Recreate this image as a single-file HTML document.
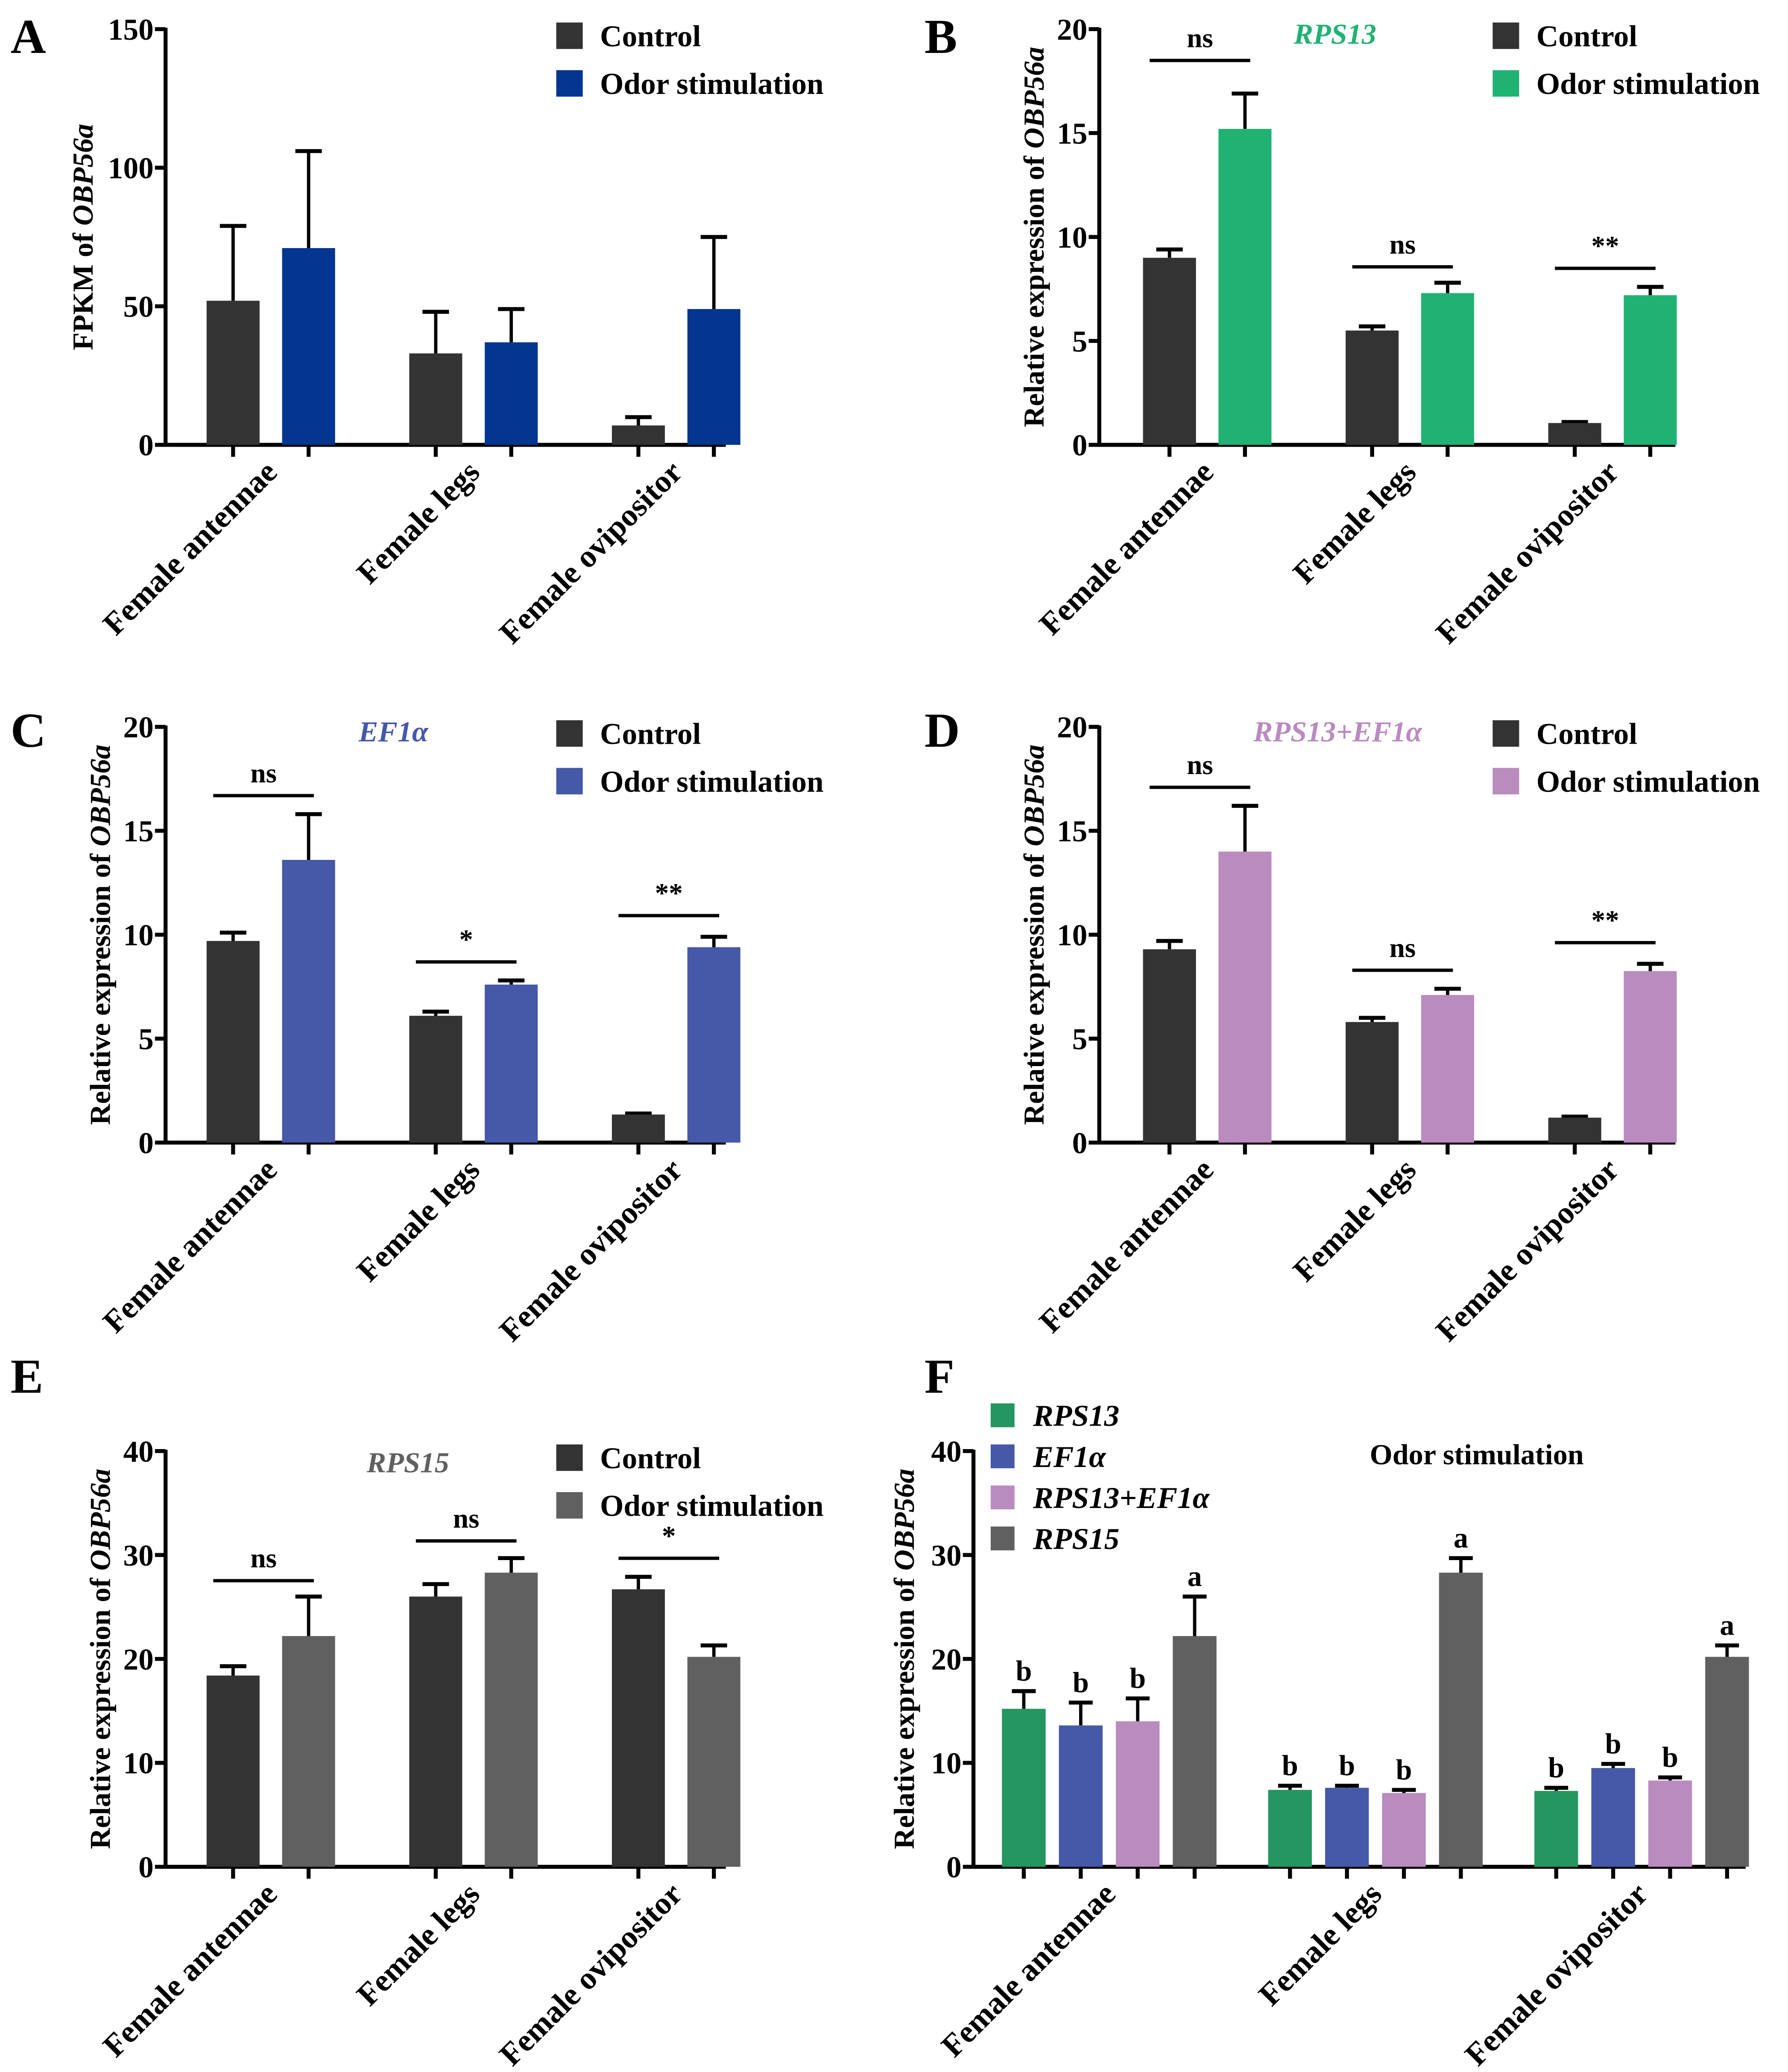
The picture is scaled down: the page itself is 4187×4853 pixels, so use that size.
<!DOCTYPE html>
<html><head><meta charset="utf-8">
<style>
html,body{margin:0;padding:0;background:#fff;}
svg{display:block;}
text{font-family:"Liberation Serif",serif;font-weight:bold;}
</style></head>
<body>
<svg id="fig" width="4187" height="4853" viewBox="0 0 1350 1565" preserveAspectRatio="none" xmlns="http://www.w3.org/2000/svg"></svg>
<script>
// ---- data ----
const categories = ["Female antennae","Female legs","Female ovipositor"];
const aControl = [52,33,7];          const aControlErr = [79,48,10];
const aOdor = [71,37,49];            const aOdorErr = [106,49,75];
const bControl = [9.0,5.5,1.05];     const bControlErr = [9.4,5.7,1.1];
const bOdor = [15.2,7.3,7.2];        const bOdorErr = [16.9,7.8,7.6];
const bSig = ["ns","ns","**"];
const cControl = [9.7,6.1,1.35];     const cControlErr = [10.1,6.3,1.4];
const cOdor = [13.6,7.6,9.4];        const cOdorErr = [15.8,7.8,9.9];
const cSig = ["ns","*","**"];
const dControl = [9.3,5.8,1.2];      const dControlErr = [9.7,6.0,1.25];
const dOdor = [14.0,7.1,8.25];       const dOdorErr = [16.2,7.4,8.6];
const dSig = ["ns","ns","**"];
const eControl = [18.4,26.0,26.7];   const eControlErr = [19.3,27.2,27.9];
const eOdor = [22.2,28.3,20.2];      const eOdorErr = [26.0,29.7,21.3];
const eSig = ["ns","ns","*"];
const fSeries = ["RPS13","EF1α","RPS13+EF1α","RPS15"];
const fValues = [[15.2,7.4,7.3],[13.6,7.6,9.5],[14.0,7.1,8.3],[22.2,28.3,20.2]];
const fErr = [[16.9,7.8,7.6],[15.8,7.8,9.9],[16.2,7.4,8.6],[26.0,29.7,21.3]];
const fLetters = [["b","b","b"],["b","b","b"],["b","b","b"],["a","a","a"]];
const ticks20 = [0,5,10,15,20];
const ticks40 = [0,10,20,30,40];
const ticks150 = [0,50,100,150];

const svg = document.getElementById('fig');
const NS = "http://www.w3.org/2000/svg";
function el(tag, attrs, parent, txt){
  const e = document.createElementNS(NS, tag);
  for (const k in attrs) e.setAttribute(k, attrs[k]);
  if (txt !== undefined) e.textContent = txt;
  (parent||svg).appendChild(e);
  return e;
}

function panel(o){
  const g = el('g', {});
  
  
  const ax = o.ax, y0 = o.y0, ytop = o.ytop, ymax = o.ticks[o.ticks.length-1];
  const Y = v => y0 - (v/ymax)*(y0-ytop);
  const L = el('text', {x:o.lx, y:o.ly, 'font-size':37}, g, o.letter);
  
  
  const ya = el('line', {x1:ax, y1:ytop-1, x2:ax, y2:y0+1, stroke:'#000','stroke-width':3}, g);
  
  
  o.ticks.forEach(t=>{
    el('line', {x1:ax-8, y1:Y(t), x2:ax, y2:Y(t), stroke:'#000','stroke-width':3}, g);
    const tl = el('text', {x:ax-9, y:Y(t)+8, 'font-size':23, 'text-anchor':'end'}, g, t);
    
    
  });
  const yt = el('text', {x:0, y:0, 'font-size':22, 'text-anchor':'middle', transform:`translate(${o.ytx},${(ytop+y0)/2}) rotate(-90)`}, g);
  
  
  el('tspan', {}, yt, o.ytitle);
  el('tspan', {'font-style':'italic'}, yt, 'OBP56a');
  const xa = el('line', {x1:ax-1, y1:y0, x2:o.xend, y2:y0, stroke:'#000','stroke-width':3}, g);
  
  
  const nS = o.series.length;
  categories.forEach((c,i)=>{
    const gx = o.gx0 + i*o.gstep;
    o.series.forEach((s,j)=>{
      const cx = gx + j*o.bstep;
      const v = s.vals[i], e = s.errs[i];
      el('line', {x1:cx, y1:Y(e), x2:cx, y2:Y(v), stroke:'#000','stroke-width':2.5}, g);
      el('line', {x1:cx-o.cap, y1:Y(e), x2:cx+o.cap, y2:Y(e), stroke:'#000','stroke-width':3}, g);
      const b = el('rect', {x:cx-o.bw/2, y:Y(v), width:o.bw, height:y0-Y(v), fill:s.color}, g);
      
      
      el('line', {x1:cx, y1:y0, x2:cx, y2:y0+9, stroke:'#000','stroke-width':3}, g);
      if (s.letters){
        const lt = el('text', {x:cx, y:Y(e)-8, 'font-size':22, 'text-anchor':'middle'}, g, s.letters[i]);
        
        
      }
    });
    const lx = gx + (nS-1)*o.bstep/2 + o.labOff;
    const cl = el('text', {x:0, y:0, 'font-size':24, 'text-anchor':'end', transform:`translate(${lx},${y0+22}) rotate(-45)`}, g, c);
    
    
    if (o.sig){
      const top = Math.max(o.series[0].errs[i], o.series[1].errs[i]);
      const sy = Y(top) - o.sigGap[i];
      const x1 = gx - 15, x2 = gx + o.bstep + 4;
      el('line', {x1:x1, y1:sy, x2:x2, y2:sy, stroke:'#000','stroke-width':2.5}, g);
      const st = el('text', {x:(x1+x2)/2, y:sy-10, 'font-size':21, 'text-anchor':'middle'}, g, o.sig[i]);
      
      
    }
  });
  if (o.title){
    const tt = el('text', {x:o.title[1], y:o.title[2], 'font-size':22, 'text-anchor':'middle', fill:o.title[3], 'font-style':o.title[4]||'italic'}, g, o.title[0]);
    
    
  }
  o.legend.items.forEach((it,k)=>{
    const ly = o.legend.y + k*o.legend.dy;
    const sq = el('rect', {x:o.legend.x, y:ly-o.legend.sz/2, width:o.legend.sz, height:o.legend.sz, fill:it[1]}, g);
    
    
    const lt = el('text', {x:o.legend.x+o.legend.tx, y:ly+8, 'font-size':23, 'font-style':it[2]?'italic':'normal'}, g, it[0]);
    
    
  });
}

const dark = '#333333';
const common2 = {gstep:153, bstep:57, bw:40, cap:10, labOff:6};
panel(Object.assign({}, common2, {name:'panel-a', letter:'A', lx:8, ly:40, ax:125, y0:336, ytop:22, ticks:ticks150, ytx:70, ytitle:'FPKM of ', xend:548, gx0:176,
  series:[{key:'control',vals:aControl,errs:aControlErr,color:dark},{key:'odor',vals:aOdor,errs:aOdorErr,color:'#033591'}],
  legend:{x:420,y:27,dy:36,sz:20,tx:33,items:[['Control',dark],['Odor stimulation','#033591']]}}));
panel(Object.assign({}, common2, {name:'panel-b', letter:'B', lx:698, ly:40, ax:830, y0:336, ytop:22, ticks:ticks20, ytx:788, ytitle:'Relative expression of ', xend:1265, gx0:883,
  series:[{key:'control',vals:bControl,errs:bControlErr,color:dark},{key:'odor',vals:bOdor,errs:bOdorErr,color:'#20b273'}],
  sig:bSig, sigGap:[25,12,14], title:['RPS13',1008,33,'#20b273'],
  legend:{x:1127,y:27,dy:36,sz:20,tx:33,items:[['Control',dark],['Odor stimulation','#20b273']]}}));
panel(Object.assign({}, common2, {name:'panel-c', letter:'C', lx:8, ly:564, ax:125, y0:863, ytop:549, ticks:ticks20, ytx:83, ytitle:'Relative expression of ', xend:548, gx0:176,
  series:[{key:'control',vals:cControl,errs:cControlErr,color:dark},{key:'odor',vals:cOdor,errs:cOdorErr,color:'#4658a8'}],
  sig:cSig, sigGap:[14,14,16], title:['EF1α',297,560,'#4658a8'],
  legend:{x:420,y:554,dy:36,sz:20,tx:33,items:[['Control',dark],['Odor stimulation','#4658a8']]}}));
panel(Object.assign({}, common2, {name:'panel-d', letter:'D', lx:698, ly:564, ax:830, y0:863, ytop:549, ticks:ticks20, ytx:788, ytitle:'Relative expression of ', xend:1265, gx0:883,
  series:[{key:'control',vals:dControl,errs:dControlErr,color:dark},{key:'odor',vals:dOdor,errs:dOdorErr,color:'#b98bbf'}],
  sig:dSig, sigGap:[14,14,16], title:['RPS13+EF1α',1010,560,'#b98bbf'],
  legend:{x:1127,y:554,dy:36,sz:20,tx:33,items:[['Control',dark],['Odor stimulation','#b98bbf']]}}));
panel(Object.assign({}, common2, {name:'panel-e', letter:'E', lx:8, ly:1052, ax:125, y0:1410, ytop:1096, ticks:ticks40, ytx:83, ytitle:'Relative expression of ', xend:548, gx0:176,
  series:[{key:'control',vals:eControl,errs:eControlErr,color:dark},{key:'odor',vals:eOdor,errs:eOdorErr,color:'#606060'}],
  sig:eSig, sigGap:[12,13,14], title:['RPS15',308,1112,'#606060'],
  legend:{x:420,y:1101,dy:36,sz:20,tx:33,items:[['Control',dark],['Odor stimulation','#606060']]}}));
const fColors = ['#24965f','#4658a8','#b98bbf','#606060'];
panel({name:'panel-f', letter:'F', lx:698, ly:1052, ax:735, y0:1410, ytop:1096, ticks:ticks40, ytx:690, ytitle:'Relative expression of ', xend:1318, gx0:773, gstep:201, bstep:43, bw:33, cap:9, labOff:6,
  series:fSeries.map((s,j)=>({key:'f'+j, vals:fValues[j], errs:fErr[j], color:fColors[j], letters:fLetters[j]})),
  title:['Odor stimulation',1115,1106,'#000','normal'],
  legend:{x:748,y:1069,dy:31,sz:18,tx:32,items:fSeries.map((s,j)=>[s,fColors[j],true])}});
</script>
</body></html>
